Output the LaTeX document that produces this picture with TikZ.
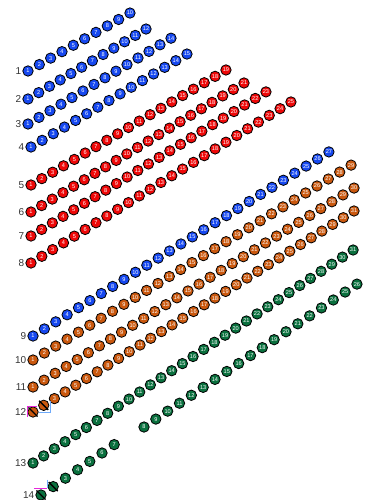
\documentclass[tikz,border=0pt]{standalone}
\usepackage{fontspec}
\setmainfont{Liberation Sans}
\usepackage{tikz}
\usetikzlibrary{positioning}

\definecolor{seatblue}{RGB}{22,72,240}
\definecolor{seatred}{RGB}{238,8,8}
\definecolor{seatorange}{RGB}{202,88,14}
\definecolor{seatgreen}{RGB}{10,112,62}
\definecolor{selpink}{RGB}{230,40,220}
\definecolor{selblue}{RGB}{110,170,250}

\begin{document}
\begin{tikzpicture}[
    x=1pt, y=-1pt,
    seat/.style={circle, draw=black, line width=0.8pt, minimum size=10.4pt, inner sep=0pt, text=white, font=\fontsize{5.6}{5.6}\selectfont},
    rowlbl/.style={inner sep=0.5pt, text=black!80, font=\fontsize{10}{12}\selectfont},
    strike/.style={line width=1.3pt, black, shorten <=-0.8pt, shorten >=-0.8pt},
    sel/.style={line width=0.6pt}
]
\useasboundingbox (0,0) rectangle (376,500);

% Seat rows: row / first / last / seat-1 position / step / colour
\foreach \row/\first/\last/\xo/\yo/\dx/\dy/\col in {
    1/1/10/28/71/11.33/-6.44/seatblue,
    2/1/12/28/99/10.73/-6.36/seatblue,
    3/1/14/28/124/11/-6.6/seatblue,
    4/1/15/31/147/11.14/-6.64/seatblue,
    5/1/19/31/185/10.83/-6.39/seatred,
    6/1/21/31/212/10.65/-6.45/seatred,
    7/1/23/31/236/10.68/-6.55/seatred,
    8/1/25/31/263/10.83/-6.71/seatred,
    9/1/27/33/336/11.38/-7.08/seatblue,
    10/1/29/33/360/11.36/-6.96/seatorange,
    11/1/30/33/387/11.07/-6.86/seatorange,
    12/3/31/33/412/10.7/-6.7/seatorange,
    13/1/31/33/463/10.67/-7.1/seatgreen,
    14/3/7/41/495/12.2/-8.4/seatgreen,
    14/8/26/61.2/482.6/11.83/-7.94/seatgreen} {
  \foreach \s in {\first,...,\last} {
    \node[seat, fill=\col] (r\row-\s) at ({\xo+(\s-1)*\dx}, {\yo+(\s-1)*\dy}) {\s};
  }
}

% Struck seats, row 12
\node[seat, fill=seatorange] (r12-1) at (33,412) {};
\node[seat, fill=seatorange] (r12-2) at (43.7,405.3) {};
\draw[strike] (r12-1.north west) -- (r12-1.south east);
\draw[strike] (r12-2.north west) -- (r12-2.south east);
\draw[sel, selpink] ([shift={(-5.5,5)}]r12-1.center) -- ([shift={(-5.5,-6)}]r12-1.center) -- ([shift={(4,-6)}]r12-1.center);
\draw[sel, selblue] ([shift={(-5,6.5)}]r12-2.center) -- ([shift={(6.5,6.5)}]r12-2.center) -- ([shift={(6.5,-4)}]r12-2.center);

% Struck seats, row 14
\node[seat, fill=seatgreen] (r14-1) at (41,495) {};
\node[seat, fill=seatgreen] (r14-2) at (53.2,486.6) {};
\draw[strike] (r14-1.north west) -- (r14-1.south east);
\draw[strike] (r14-2.north west) -- (r14-2.south east);
\draw[sel, selpink] ([shift={(-7,-7)}]r14-1.center) -- ([shift={(6,-7)}]r14-1.center);
\draw[sel, selblue] ([shift={(-6,-7)}]r14-2.center) -- ([shift={(-6,1)}]r14-2.center);

% Row numbers
\foreach \row in {1,...,14} {
  \node[rowlbl, left=0.5pt of r\row-1] (lbl\row) {\row};
}
\end{tikzpicture}
\end{document}
